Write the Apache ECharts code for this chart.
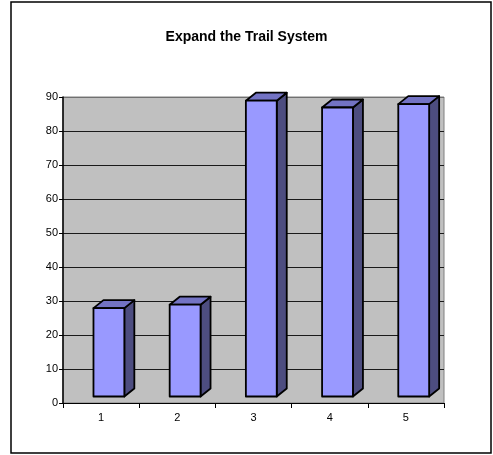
<!DOCTYPE html>
<html>
<head>
<meta charset="utf-8">
<script src="https://cdn.jsdelivr.net/npm/echarts@6/dist/echarts.min.js"></script>
<style>
  html, body { margin: 0; padding: 0; background: #fff; }
  #chart { width: 493px; height: 455px; }
</style>
</head>
<body>
<div id="chart"></div>
<script>
// data
const categories = ['1', '2', '3', '4', '5']
const values = [26, 27, 87, 85, 86]

const chart = echarts.init(document.getElementById('chart'))

// fake 3d column like the old excel look
function renderBar(params, api) {
  const i = api.value(0)
  const base = api.coord([i, 0])
  const top = api.coord([i, api.value(1)])
  const band = api.size([1, 0])[0]
  const lift = 6.5   // front face sits a bit above the axis
  const dx = 10, dy = 8
  const x0 = base[0] - band * 0.1
  const w = band * 0.405
  const yb = base[1] - lift
  const yt = top[1] - lift
  const edge = { stroke: '#000', lineWidth: 1.8, lineJoin: 'round' }
  return {
    type: 'group',
    children: [
      {
        type: 'polygon',
        shape: { points: [[x0 + w, yt], [x0 + w + dx, yt - dy], [x0 + w + dx, yb - dy], [x0 + w, yb]] },
        style: Object.assign({ fill: '#4D4D80' }, edge)
      },
      {
        type: 'polygon',
        shape: { points: [[x0, yt], [x0 + dx, yt - dy], [x0 + w + dx, yt - dy], [x0 + w, yt]] },
        style: Object.assign({ fill: '#7373C4' }, edge)
      },
      {
        type: 'rect',
        shape: { x: x0, y: yt, width: w, height: yb - yt },
        style: Object.assign({ fill: '#9999FF' }, edge)
      }
    ]
  }
}

// gridline colours, bottom to top; the top one is the wall edge
const gridColors = ['#1a1a1a', '#1a1a1a', '#1a1a1a', '#1a1a1a', '#1a1a1a',
  '#1a1a1a', '#1a1a1a', '#1a1a1a', '#1a1a1a', '#707070']

const option = {
  animation: false,
  title: {
    text: 'Expand the Trail System',
    left: 'center',
    top: 25,
    textStyle: { fontFamily: 'Liberation Sans, Arial', fontSize: 14, fontWeight: 'bold', color: '#000' }
  },
  grid: {
    left: 63,
    right: 49,
    top: 97,
    bottom: 52,
    show: true,
    backgroundColor: '#C0C0C0',
    borderColor: '#808080',
    borderWidth: 1
  },
  xAxis: {
    type: 'category',
    data: categories,
    axisLine: { lineStyle: { color: '#000', width: 1 } },
    axisTick: { show: true, length: 5, lineStyle: { color: '#000' } },
    axisLabel: { color: '#000', fontFamily: 'Liberation Sans, Arial', fontSize: 11, margin: 9 },
    splitLine: { show: false }
  },
  yAxis: {
    type: 'value',
    min: 0,
    max: 90,
    interval: 10,
    axisLine: { show: true, lineStyle: { color: '#000', width: 1.5 } },
    axisTick: { show: true, length: 4, lineStyle: { color: '#000' } },
    axisLabel: { color: '#000', fontFamily: 'Liberation Sans, Arial', fontSize: 11, margin: 5 },
    splitLine: { show: true, lineStyle: { color: gridColors, width: 1 } }
  },
  series: [
    {
      type: 'custom',
      renderItem: renderBar,
      data: values.map((v, i) => [i, v]),
      encode: { x: 0, y: 1 }
    }
  ],
  graphic: [
    {
      type: 'rect',
      shape: { x: 11, y: 2, width: 480, height: 451 },
      style: { fill: 'none', stroke: '#000', lineWidth: 1.5 },
      silent: true
    }
  ]
}

chart.setOption(option)
</script>
</body>
</html>
